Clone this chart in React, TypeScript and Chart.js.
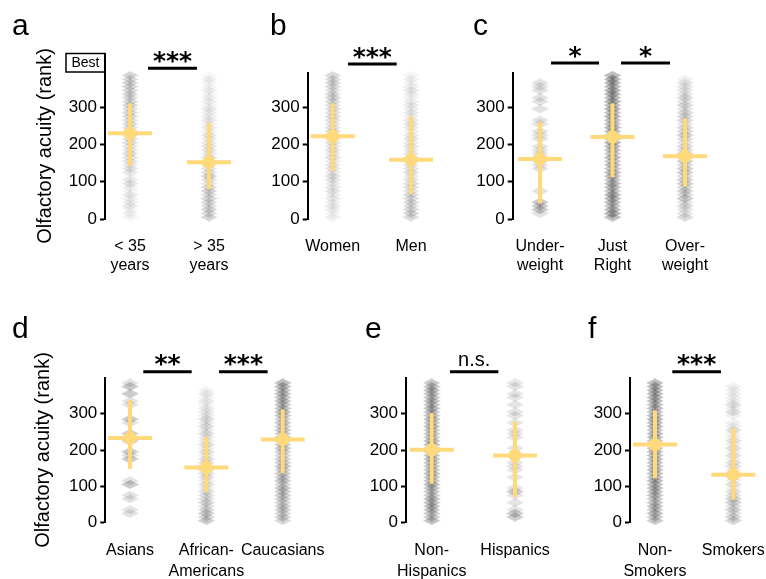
import { useEffect, useRef } from 'react';
import { Chart, registerables } from 'chart.js';

Chart.register(...registerables);

const FONT = '"Liberation Sans", Arial, Helvetica, sans-serif';
const STAR_FONT = '"DejaVu Sans", sans-serif';
const YELLOW = '#FFD97A';

// ---------------- data ----------------
// rank bins of width 10 (centre of each bin)
const BIN_CENTERS = [5, 15, 25, 35, 45, 55, 65, 75, 85, 95, 105, 115, 125, 135, 145, 155, 165, 175, 185, 195, 205, 215, 225, 235, 245, 255, 265, 275, 285, 295, 305, 315, 325, 335, 345, 355, 365, 375, 385];
const Y_TICKS = [0, 100, 200, 300];
const Y_TITLE = 'Olfactory acuity (rank)';

// a - age
const A_CATEGORIES = [['< 35', 'years'], ['> 35', 'years']];
const A_MEANS = [230, 152];
const A_LOW = [143, 80];
const A_HIGH = [310, 258];
const A_YOUNG = [2, 3, 2, 4, 3, 3, 4, 2, 3, 5, 4, 1, 4, 5, 4, 5, 5, 6, 5, 5, 6, 6, 5, 7, 6, 7, 6, 7, 7, 6, 8, 7, 7, 8, 7, 8, 8, 7, 8];
const A_OLD = [8, 7, 8, 6, 7, 7, 6, 8, 7, 5, 6, 9, 6, 5, 6, 5, 5, 4, 5, 5, 4, 4, 5, 3, 4, 3, 4, 3, 3, 4, 2, 3, 3, 2, 3, 2, 2, 3, 1];
const A_SIG = ['***'];

// b - gender
const B_CATEGORIES = [['Women'], ['Men']];
const B_MEANS = [222, 159];
const B_LOW = [128, 67];
const B_HIGH = [310, 275];
const B_WOMEN = [3, 2, 3, 4, 3, 4, 3, 5, 4, 4, 5, 6, 4, 5, 5, 4, 6, 5, 6, 5, 6, 5, 6, 7, 6, 5, 6, 7, 6, 7, 6, 7, 8, 7, 6, 7, 8, 7, 7];
const B_MEN = [7, 8, 7, 6, 7, 6, 7, 5, 6, 6, 5, 4, 6, 5, 5, 6, 4, 5, 4, 5, 4, 5, 4, 3, 4, 5, 4, 3, 4, 3, 4, 3, 2, 3, 4, 3, 2, 3, 2];
const B_SIG = ['***'];

// c - weight
const C_CATEGORIES = [['Under-', 'weight'], ['Just', 'Right'], ['Over-', 'weight']];
const C_MEANS = [161, 220, 168];
const C_LOW = [42, 112, 87];
const C_HIGH = [260, 310, 270];
const C_UNDER = [0, 1, 2, 2, 2, 0, 0, 1, 0, 0, 0, 0, 0, 1, 1, 1, 2, 1, 1, 1, 0, 1, 1, 1, 0, 1, 1, 0, 0, 1, 0, 1, 1, 0, 1, 1, 1, 0, 0];
const C_JUST = [6, 7, 6, 5, 6, 6, 7, 5, 6, 6, 5, 6, 6, 5, 6, 5, 6, 5, 6, 6, 7, 6, 5, 6, 7, 6, 6, 7, 6, 7, 6, 7, 6, 7, 7, 6, 7, 7, 6];
const C_OVER = [3, 2, 2, 3, 2, 4, 3, 4, 3, 4, 4, 3, 4, 4, 3, 4, 3, 4, 3, 3, 2, 3, 4, 3, 3, 2, 3, 3, 3, 2, 3, 2, 3, 2, 2, 2, 2, 1, 0];
const C_SIG = ['*', '*'];

// d - race
const D_CATEGORIES = [['Asians'], ['African-', 'Americans'], ['Caucasians']];
const D_MEANS = [233, 152, 229];
const D_LOW = [148, 83, 136];
const D_HIGH = [337, 237, 312];
const D_ASIAN = [0, 0, 1, 1, 0, 0, 1, 1, 0, 0, 2, 1, 0, 0, 0, 0, 0, 2, 1, 2, 0, 0, 2, 1, 2, 0, 0, 1, 2, 0, 0, 0, 1, 1, 0, 2, 0, 2, 1];
const D_AFRICAN = [5, 4, 5, 4, 3, 4, 3, 3, 3, 2, 3, 2, 3, 3, 4, 3, 3, 3, 2, 3, 2, 3, 2, 2, 3, 2, 3, 2, 3, 2, 2, 2, 1, 2, 1, 2, 1, 0, 0];
const D_CAUCASIAN = [4, 5, 4, 5, 5, 4, 5, 5, 5, 6, 4, 6, 5, 5, 5, 6, 5, 5, 4, 5, 6, 5, 6, 6, 5, 6, 5, 6, 5, 6, 7, 6, 6, 7, 6, 7, 6, 7, 7];
const D_SIG = ['**', '***'];

// e - ethnicity
const E_CATEGORIES = [['Non-', 'Hispanics'], ['Hispanics']];
const E_MEANS = [201, 185];
const E_LOW = [107, 70];
const E_HIGH = [302, 279];
const E_NONHISP = [8, 7, 7, 8, 9, 8, 9, 7, 7, 8, 9, 8, 8, 9, 8, 8, 8, 9, 8, 9, 8, 9, 9, 8, 8, 8, 9, 8, 9, 8, 8, 9, 8, 9, 8, 8, 9, 8, 7];
const E_HISP = [0, 2, 2, 1, 0, 1, 0, 1, 2, 1, 0, 0, 1, 0, 1, 1, 1, 0, 1, 0, 1, 0, 0, 1, 1, 1, 0, 1, 0, 1, 1, 0, 1, 0, 1, 1, 0, 1, 1];
const E_SIG = ['n.s.'];

// f - smoking
const F_CATEGORIES = [['Non-', 'Smokers'], ['Smokers']];
const F_MEANS = [215, 132];
const F_LOW = [122, 63];
const F_HIGH = [309, 260];
const F_NONSMOK = [7, 7, 8, 7, 8, 7, 7, 8, 8, 9, 8, 9, 8, 8, 9, 8, 8, 9, 8, 9, 8, 9, 8, 9, 9, 8, 9, 9, 10, 9, 8, 9, 8, 9, 9, 9, 9, 9, 9];
const F_SMOK = [3, 3, 2, 3, 2, 3, 3, 2, 2, 1, 2, 1, 2, 2, 1, 2, 2, 1, 2, 1, 2, 1, 2, 1, 1, 2, 1, 1, 0, 1, 2, 1, 2, 1, 1, 1, 1, 1, 0];
const F_SIG = ['***'];

// ---------------- layout / style ----------------
interface Spec {
  letter: string;
  categories: string[][];
  means: number[];
  low: number[];
  high: number[];
  counts: number[][];
  sigLabels: string[];
  sigSpans: number[][];
  alphas: number[];
  left: number; top: number; width: number; height: number;
  axisW: number; firstOff: number; unit: number;
  padTop: number; xAxisH: number; yMax: number;
  labelPad: number; labelLH: number;
  letterX: number; letterY: number; sigY: number;
  titlePad?: number; best?: boolean;
}

const TOP = { top: 0, height: 290, padTop: 72.8, xAxisH: 71, yMax: 392, labelPad: 17.5, labelLH: 1.2, letterY: 35, sigY: 0 };
const BOT = { top: 290, height: 289, padTop: 87.5, xAxisH: 56.5, yMax: 400, labelPad: 18, labelLH: 1.3, letterY: 48, sigY: 81.7 };

const SPECS: Spec[] = [
  { ...TOP, letter: 'a', categories: A_CATEGORIES, means: A_MEANS, low: A_LOW, high: A_HIGH, counts: [A_YOUNG, A_OLD], sigLabels: A_SIG,
    sigSpans: [[0.228, 0.848]], sigY: 68.3, alphas: [0.025, 0.025],
    left: 0, width: 250, axisW: 105, firstOff: 25, unit: 79, letterX: 12, titlePad: 33, best: true },
  { ...TOP, letter: 'b', categories: B_CATEGORIES, means: B_MEANS, low: B_LOW, high: B_HIGH, counts: [B_WOMEN, B_MEN], sigLabels: B_SIG,
    sigSpans: [[0.195, 0.817]], sigY: 64, alphas: [0.025, 0.025],
    left: 250, width: 200, axisW: 57.7, firstOff: 25, unit: 78.3, letterX: 20 },
  { ...TOP, letter: 'c', categories: C_CATEGORIES, means: C_MEANS, low: C_LOW, high: C_HIGH, counts: [C_UNDER, C_JUST, C_OVER], sigLabels: C_SIG,
    sigSpans: [[0.152, 0.814], [1.117, 1.793]], sigY: 63, alphas: [0.11, 0.05, 0.05],
    left: 450, width: 316, axisW: 62.7, firstOff: 27.3, unit: 72.5, letterX: 23 },
  { ...BOT, letter: 'd', categories: D_CATEGORIES, means: D_MEANS, low: D_LOW, high: D_HIGH, counts: [D_ASIAN, D_AFRICAN, D_CAUCASIAN], sigLabels: D_SIG,
    sigSpans: [[0.174, 0.808], [1.166, 1.803]], alphas: [0.11, 0.045, 0.045],
    left: 0, width: 330, axisW: 105.3, firstOff: 24.7, unit: 76.35, letterX: 12, titlePad: 31 },
  { ...BOT, letter: 'e', categories: E_CATEGORIES, means: E_MEANS, low: E_LOW, high: E_HIGH, counts: [E_NONHISP, E_HISP], sigLabels: E_SIG,
    sigSpans: [[0.22, 0.8]], alphas: [0.036, 0.1],
    left: 330, width: 230, axisW: 76, firstOff: 25.7, unit: 83.3, letterX: 35 },
  { ...BOT, letter: 'f', categories: F_CATEGORIES, means: F_MEANS, low: F_LOW, high: F_HIGH, counts: [F_NONSMOK, F_SMOK], sigLabels: F_SIG,
    sigSpans: [[0.221, 0.843]], alphas: [0.036, 0.06],
    left: 560, width: 206, axisW: 70, firstOff: 25, unit: 78.3, letterX: 28 },
];

function makeDiamond(alpha: number): HTMLCanvasElement {
  const c = document.createElement('canvas');
  c.width = 18;
  c.height = 9;
  const g = c.getContext('2d')!;
  g.fillStyle = `rgba(0,0,0,${alpha})`;
  g.beginPath();
  g.moveTo(9, 0);
  g.lineTo(18, 4.5);
  g.lineTo(9, 9);
  g.lineTo(0, 4.5);
  g.closePath();
  g.fill();
  return c;
}

function makeAnnotPlugin(spec: Spec) {
  return {
    id: 'annot',
    afterDraw(chart: any) {
      const ctx: CanvasRenderingContext2D = chart.ctx;
      const xs = chart.scales.x;
      const area = chart.chartArea;
      ctx.save();
      ctx.fillStyle = '#000';
      ctx.strokeStyle = '#000';
      // panel letter
      ctx.font = `30px ${FONT}`;
      ctx.textAlign = 'left';
      ctx.textBaseline = 'alphabetic';
      ctx.fillText(spec.letter, spec.letterX, spec.letterY);
      // significance bars
      spec.sigLabels.forEach((label, i) => {
        const [from, to] = spec.sigSpans[i];
        const x1 = xs.getPixelForValue(from);
        const x2 = xs.getPixelForValue(to);
        ctx.lineWidth = 3;
        ctx.beginPath();
        ctx.moveTo(x1, spec.sigY);
        ctx.lineTo(x2, spec.sigY);
        ctx.stroke();
        ctx.font = label === 'n.s.' ? `20px ${FONT}` : `bold 25px ${STAR_FONT}`;
        ctx.textAlign = 'center';
        const m = ctx.measureText(label);
        ctx.fillText(label, (x1 + x2) / 2, spec.sigY - 5.5 - m.actualBoundingBoxDescent);
      });
      if (spec.best) {
        const ax = Math.round(area.left);
        ctx.lineWidth = 2;
        ctx.beginPath();
        ctx.moveTo(ax, area.top + 1);
        ctx.lineTo(ax, 53);
        ctx.stroke();
        ctx.lineWidth = 1.5;
        ctx.strokeRect(66, 53.5, ax - 66, 18.5);
        ctx.font = `14px ${FONT}`;
        ctx.textAlign = 'center';
        ctx.textBaseline = 'middle';
        ctx.fillText('Best', (66 + ax) / 2, 63);
      }
      ctx.restore();
    },
  };
}

function Panel({ spec }: { spec: Spec }) {
  const ref = useRef<HTMLCanvasElement>(null);
  useEffect(() => {
    if (!ref.current) return;
    const xmin = -spec.firstOff / spec.unit;
    const xmax = xmin + (spec.width - spec.axisW) / spec.unit;
    const datasets: any[] = [];
    // mean markers (top)
    datasets.push({
      data: spec.means.map((m, i) => ({ x: i, y: m })),
      pointStyle: 'circle', pointRadius: 6.5, pointBackgroundColor: YELLOW, pointBorderWidth: 0,
      showLine: false, order: 0, clip: false,
    });
    datasets.push({
      data: spec.means.map((m, i) => ({ x: i, y: m })),
      pointStyle: 'line', pointRadius: 22, pointBorderColor: YELLOW, pointBorderWidth: 4,
      showLine: false, order: 1, clip: false,
    });
    spec.means.forEach((_m, i) => {
      datasets.push({
        data: [{ x: i, y: spec.low[i] }, { x: i, y: spec.high[i] }],
        showLine: true, borderColor: YELLOW, borderWidth: 4, pointRadius: 0, borderCapStyle: 'butt',
        order: 2, clip: false,
      });
    });
    spec.counts.forEach((counts, gi) => {
      const pts: { x: number; y: number }[] = [];
      counts.forEach((c, bi) => {
        for (let k = 0; k < c; k++) pts.push({ x: gi, y: BIN_CENTERS[bi] });
      });
      datasets.push({
        data: pts,
        pointStyle: makeDiamond(spec.alphas[gi]), pointRadius: 4,
        showLine: false, order: 3, clip: false,
      });
    });

    const chart = new Chart(ref.current, {
      type: 'scatter',
      data: { datasets },
      options: {
        animation: false,
        responsive: true,
        maintainAspectRatio: false,
        events: [],
        layout: { autoPadding: false, padding: { top: spec.padTop, left: 0, right: 0, bottom: 0 } },
        plugins: { legend: { display: false }, tooltip: { enabled: false } },
        scales: {
          x: {
            type: 'linear', min: xmin, max: xmax,
            afterBuildTicks: (s: any) => { s.ticks = spec.categories.map((_c, i) => ({ value: i })); },
            afterFit: (s: any) => { s.height = spec.xAxisH; s.paddingLeft = 0; s.paddingRight = 0; },
            border: { display: false },
            grid: { display: false, drawTicks: false },
            ticks: {
              color: '#000', font: { family: FONT, size: 16, lineHeight: spec.labelLH },
              padding: spec.labelPad, autoSkip: false, maxRotation: 0, minRotation: 0,
              callback: (_v: any, i: number) => spec.categories[i],
            },
          },
          y: {
            type: 'linear', min: 0, max: spec.yMax,
            afterBuildTicks: (s: any) => { s.ticks = Y_TICKS.map((v) => ({ value: v })); },
            afterFit: (s: any) => { s.width = spec.axisW; s.paddingTop = 0; s.paddingBottom = 0; },
            border: { display: true, color: '#000', width: 2 },
            grid: { display: true, drawOnChartArea: false, drawTicks: true, tickLength: 5, tickWidth: 2, tickColor: '#000', color: '#000' },
            ticks: { color: '#000', font: { family: FONT, size: 17 }, padding: 3 },
            title: spec.titlePad !== undefined
              ? { display: true, text: Y_TITLE, color: '#000', font: { family: FONT, size: 20 }, padding: { top: spec.titlePad, bottom: 0 } }
              : { display: false },
          },
        },
      } as any,
      plugins: [makeAnnotPlugin(spec)],
    });
    return () => chart.destroy();
  }, [spec]);
  return (
    <div style={{ position: 'absolute', left: spec.left, top: spec.top, width: spec.width, height: spec.height }}>
      <canvas ref={ref} />
    </div>
  );
}

export default function App() {
  return (
    <div style={{ position: 'absolute', left: 0, top: 0, width: 766, height: 579, background: '#fff', overflow: 'hidden' }}>
      {SPECS.map((s) => (
        <Panel key={s.letter} spec={s} />
      ))}
    </div>
  );
}
